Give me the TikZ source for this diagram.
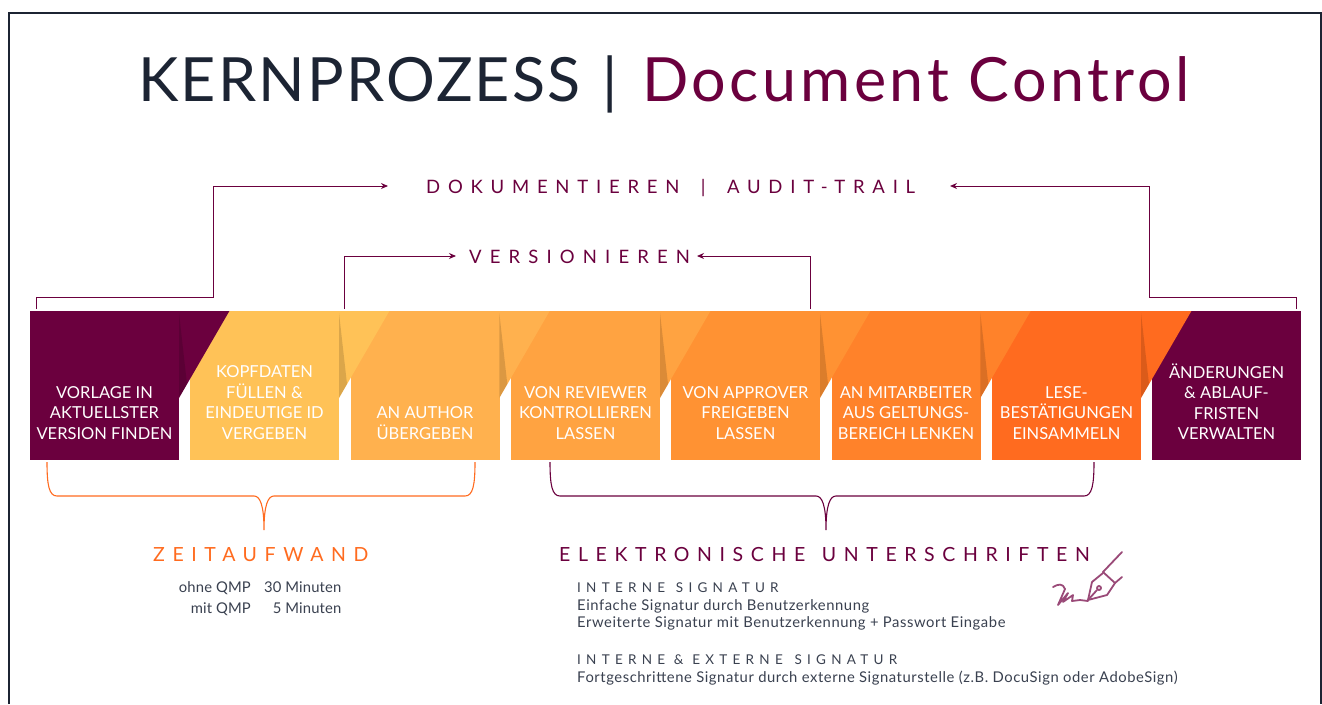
\documentclass[tikz,border=0pt]{standalone}
\usepackage{fontspec}
\setmainfont{Lato}
\usepackage{tikz}
\usetikzlibrary{arrows.meta}
\usetikzlibrary{positioning}

\definecolor{frameink}{HTML}{1C2433}
\definecolor{wine}{HTML}{6B003E}
\definecolor{stepa}{HTML}{FFC257}
\definecolor{stepb}{HTML}{FFB14E}
\definecolor{stepc}{HTML}{FFA341}
\definecolor{stepd}{HTML}{FF9233}
\definecolor{stepe}{HTML}{FF822A}
\definecolor{stepf}{HTML}{FF6B1F}
\definecolor{bodyink}{HTML}{3A4150}
\definecolor{penink}{HTML}{9A4A78}

\tikzset{
	stepbox/.style={minimum width=149pt, minimum height=149pt, inner sep=0pt, anchor=north west},
	steptext/.style={anchor=south, inner sep=0pt, text=white, align=center,
		font={\fontsize{16.5}{20.5}\selectfont}},
	flow/.style={draw=wine, line width=1pt, -{Stealth[length=7pt,width=6pt]}},
	brace/.style={line width=1.1pt},
	spaced/.style={anchor=base west, inner sep=0pt, text=wine,
		font={\fontsize{19.5}{24}\selectfont\addfontfeature{LetterSpace=39}}},
	subhead/.style={anchor=base west, inner sep=0pt, text=bodyink,
		font={\fontsize{13.5}{16}\selectfont\addfontfeature{LetterSpace=39}}},
	bodyline/.style={anchor=base west, inner sep=0pt, text=bodyink,
		font={\fontsize{14.8}{16}\selectfont\addfontfeature{LetterSpace=3.8}}},
	timeline/.style={anchor=base east, inner sep=0pt, text=bodyink,
		font={\fontsize{14.8}{16}\selectfont\addfontfeature{LetterSpace=1}}},
	titletext/.style={anchor=base west, inner sep=0pt, font={\fontsize{61}{61}\selectfont}}
}

\begin{document}
\begin{tikzpicture}[x=1pt, y=-1pt]
	\useasboundingbox (0,0) rectangle (1322,704);
	\fill[white] (0,0) rectangle (1322,704);
	\draw[frameink, line width=2pt] (8.5,704) -- (8.5,12.5) -- (1321,12.5) -- (1321,704);

	% title
	\node[titletext, text=frameink, font={\fontsize{61}{61}\selectfont\addfontfeature{LetterSpace=3.5}}] (titlea) at (138,101) {KERNPROZESS};
	\node[titletext, text=frameink] (titlebar) at (602,102) {|};
	\node[titletext, text=wine, font={\fontsize{61}{61}\selectfont\addfontfeature{LetterSpace=5.9}}] (titleb) at (642,101) {Document Control};

	% process boxes, every tab lies on top of the next box
	\node[stepbox, fill=wine] (box1) at (30,311) {};
	\node[stepbox, fill=stepa] (box2) at (190,311) {};
	\node[stepbox, fill=stepb] (box3) at (350.3,311) {};
	\node[stepbox, fill=stepc] (box4) at (511,311) {};
	\node[stepbox, fill=stepd] (box5) at (671,311) {};
	\node[stepbox, fill=stepe] (box6) at (831.3,311) {};
	\node[stepbox, fill=stepf] (box7) at (992,311) {};
	\node[stepbox, fill=wine] (box8) at (1152,311) {};

	\fill[wine] ([xshift=-1pt]box1.north east) -- ++(51,0) -- (179,398) -- (178,398) -- cycle;
	\fill[stepa] ([xshift=-1pt]box2.north east) -- ++(51,0) -- (339,398) -- (338,398) -- cycle;
	\fill[stepb] ([xshift=-1pt]box3.north east) -- ++(51,0) -- (499.3,398) -- (498.3,398) -- cycle;
	\fill[stepc] ([xshift=-1pt]box4.north east) -- ++(51,0) -- (660,398) -- (659,398) -- cycle;
	\fill[stepd] ([xshift=-1pt]box5.north east) -- ++(51,0) -- (820,398) -- (819,398) -- cycle;
	\fill[stepe] ([xshift=-1pt]box6.north east) -- ++(51,0) -- (980.3,398) -- (979.3,398) -- cycle;
	\fill[stepf] ([xshift=-1pt]box7.north east) -- ++(51,0) -- (1141,398) -- (1140,398) -- cycle;

	\begin{scope}[black, opacity=0.14]
		\fill (179,313) -- (179,398) -- (187,384) -- cycle;
		\fill (339,313) -- (339,398) -- (347,384) -- cycle;
		\fill (499.3,313) -- (499.3,398) -- (507.3,384) -- cycle;
		\fill (660,313) -- (660,398) -- (668,384) -- cycle;
		\fill (820,313) -- (820,398) -- (828,384) -- cycle;
		\fill (980.3,313) -- (980.3,398) -- (988.3,384) -- cycle;
		\fill (1141,313) -- (1141,398) -- (1149,384) -- cycle;
	\end{scope}

	\node[steptext] (text1) at (104.5,439.7) {VORLAGE IN\\AKTUELLSTER\\VERSION FINDEN};
	\node[steptext] (text2) at (264.5,439.7) {KOPFDATEN\\FÜLLEN \&\\EINDEUTIGE ID\\VERGEBEN};
	\node[steptext] (text3) at (425,439.7) {AN AUTHOR\\ÜBERGEBEN};
	\node[steptext] (text4) at (585.5,439.7) {VON REVIEWER\\KONTROLLIEREN\\LASSEN};
	\node[steptext] (text5) at (745.5,439.7) {VON APPROVER\\FREIGEBEN\\LASSEN};
	\node[steptext] (text6) at (906,439.7) {AN MITARBEITER\\AUS GELTUNGS-\\BEREICH LENKEN};
	\node[steptext] (text7) at (1066.5,439.7) {LESE-\\BESTÄTIGUNGEN\\EINSAMMELN};
	\node[steptext] (text8) at (1226.5,439.7) {ÄNDERUNGEN\\\& ABLAUF-\\FRISTEN\\VERWALTEN};

	% audit trail and versions
	\node[spaced, font={\fontsize{18.5}{24}\selectfont\addfontfeature{LetterSpace=42}}] (audit) at (426,193) {DOKUMENTIEREN\hspace{9pt} |\hspace{9pt} AUDIT-TRAIL};
	\node[spaced, font={\fontsize{18.5}{24}\selectfont\addfontfeature{LetterSpace=44}}] (versions) at (469,263) {VERSIONIEREN};

	\coordinate (auditfrom) at (36,309);
	\coordinate (auditbenda) at (213,297);
	\coordinate (auditto) at (388,186);
	\coordinate (auditback) at (1296,309);
	\coordinate (auditbendb) at (1149,297);
	\coordinate (auditend) at (950,186);
	\coordinate (versfrom) at (344,309);
	\coordinate (versto) at (456,256);
	\coordinate (versback) at (810.5,309);
	\coordinate (versend) at (697,256);

	\draw[flow] (auditfrom) |- (auditbenda) |- (auditto);
	\draw[flow] (auditback) |- (auditbendb) |- (auditend);
	\draw[flow] (versfrom) |- (versto);
	\draw[flow] (versback) |- (versend);

	% braces
	\coordinate (zeitleft) at (47,462);
	\coordinate (zeittip) at (264,530);
	\coordinate (zeitright) at (475,462);
	\coordinate (signleft) at (550,462);
	\coordinate (signtip) at (826,530);
	\coordinate (signright) at (1094,462);

	\draw[brace, stepf] (zeitleft) .. controls (47,485) and (49,496) .. (57,496) -- (254,496)
		.. controls (260,496) and (264,505) .. (zeittip)
		.. controls (264,505) and (268,496) .. (274,496) -- (465,496)
		.. controls (473,496) and (475,485) .. (zeitright);
	\draw[brace, wine] (signleft) .. controls (550,485) and (552,496) .. (560,496) -- (816,496)
		.. controls (822,496) and (826,505) .. (signtip)
		.. controls (826,505) and (830,496) .. (836,496) -- (1084,496)
		.. controls (1092,496) and (1094,485) .. (signright);

	% time
	\node[spaced, text=stepf] (zeit) at (153,561) {ZEITAUFWAND};
	\node[timeline] (ohne) at (251,592) {ohne QMP};
	\node[timeline] (mit) at (251,613) {mit QMP};
	\node[timeline] (dreissig) at (341.5,592) {30 Minuten};
	\node[timeline] (fuenf) at (341.5,613) {5 Minuten};

	% signatures
	\node[spaced] (elek) at (559,561) {ELEKTRONISCHE\hspace{4pt} UNTERSCHRIFTEN};
	\node[subhead] (intern) at (577,592) {INTERNE\hspace{2pt} SIGNATUR};
	\node[bodyline] (einfach) at (577,610) {Einfache Signatur durch Benutzerkennung};
	\node[bodyline] (erweitert) at (577,627) {Erweiterte Signatur mit Benutzerkennung + Passwort Eingabe};
	\node[subhead] (extern) at (577,664) {INTERNE \& EXTERNE\hspace{3pt} SIGNATUR};
	\node[bodyline] (fortgeschritten) at (577,682) {Fortgeschrittene Signatur durch externe Signaturstelle (z.B. DocuSign oder AdobeSign)};

	% pen
	\begin{scope}[penink, line width=1.8pt, line join=round, line cap=round]
		\draw (1122,552) -- (1103,572) -- (1115,583) -- (1122,577);
		\draw (1103,573) -- (1092,582) -- (1088,600) -- (1107,595) -- (1115,583);
		\draw (1088,600) -- (1097,590);
		\draw (1099,588) circle (2pt);
		\draw (1053,587) .. controls (1058,584) and (1063,583) .. (1065,589) -- (1058,605) -- (1068,593) -- (1063,602) -- (1073,595) -- (1072,601) -- (1080,600) -- (1088,601);
	\end{scope}
\end{tikzpicture}
\end{document}
